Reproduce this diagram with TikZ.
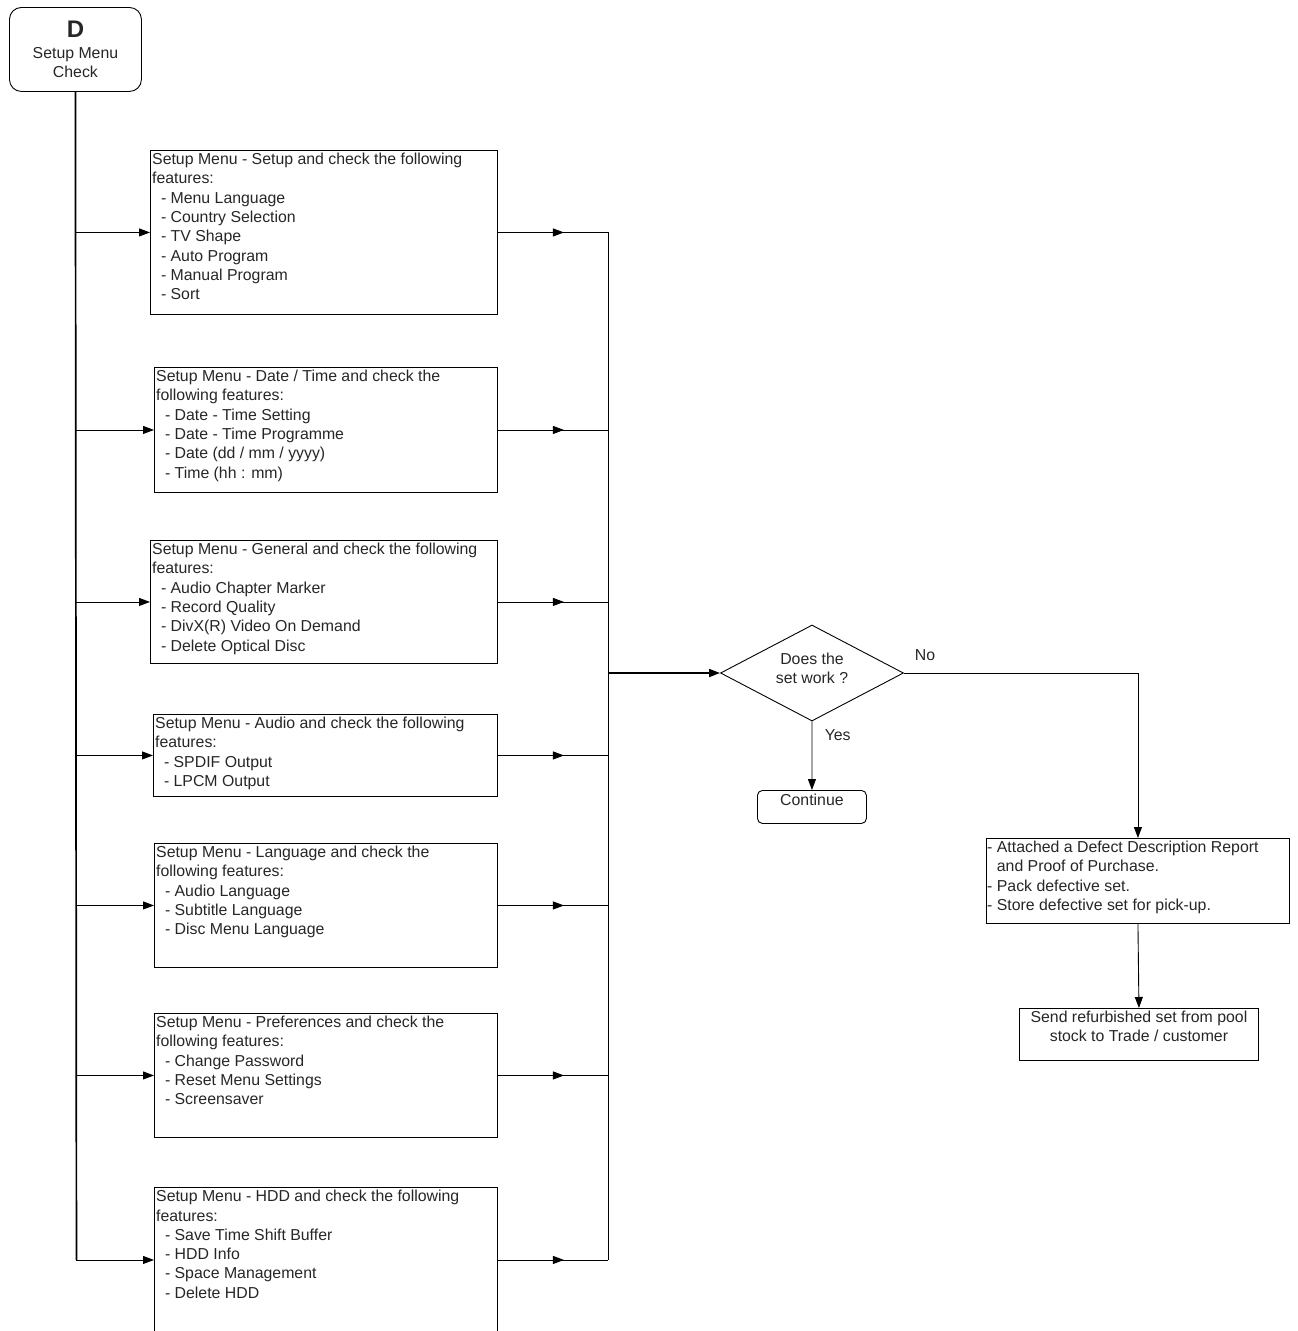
\documentclass[tikz,border=0pt]{standalone}
\usepackage{fontspec}
\setmainfont{Liberation Sans}
\usetikzlibrary{shapes.geometric,arrows.meta,decorations.markings}

\newcommand{\subind}{\hspace*{8.8pt}}

\begin{document}
\begin{tikzpicture}[x=1pt, y=-1pt, font=\fontsize{15.85}{19.3}\selectfont,
  every node/.style={text=black!85},
  box/.style={draw=black, line width=0.9pt, anchor=north west, inner sep=0pt},
  boxtext/.style={anchor=north west, inner sep=0pt, align=left},
  link/.style={line width=0.9pt},
  trunk/.style={line width=1.7pt},
  tip/.style={-{Triangle[length=11pt,width=8pt]}},
  midtip/.style={postaction={decorate}, decoration={markings, mark=at position 0.6 with {\arrow{Triangle[length=11pt,width=8pt]}}}}]
  \useasboundingbox (0,0) rectangle (1298,1331);

  % start
  \node[box, rounded corners=12pt, minimum width=132pt, minimum height=84pt, align=center] (dbox) at (9,7)
    {{\fontsize{24}{24}\selectfont\bfseries D}\\[1pt]Setup Menu\\Check};
  \coordinate (rail) at (608,0);

  % menu checks
  \node[box, minimum width=347pt, minimum height=164pt] (s1) at (150,150) {};
  \node[boxtext] (t1) at ([xshift=2pt,yshift=-3pt]s1.north west)
    {Setup Menu - Setup and check the following\\features:\\\subind- Menu Language\\\subind- Country Selection\\\subind- TV Shape\\\subind- Auto Program\\\subind- Manual Program\\\subind- Sort};

  \node[box, minimum width=343pt, minimum height=125pt] (s2) at (154,367) {};
  \node[boxtext] (t2) at ([xshift=2pt,yshift=-3pt]s2.north west)
    {Setup Menu - Date / Time and check the\\following features:\\\subind- Date - Time Setting\\\subind- Date - Time Programme\\\subind- Date (dd / mm / yyyy)\\\subind- Time (hh : mm)};

  \node[box, minimum width=347pt, minimum height=123pt] (s3) at (150,540) {};
  \node[boxtext] (t3) at ([xshift=2pt,yshift=-3pt]s3.north west)
    {Setup Menu - General and check the following\\features:\\\subind- Audio Chapter Marker\\\subind- Record Quality\\\subind- DivX(R) Video On Demand\\\subind- Delete Optical Disc};

  \node[box, minimum width=344pt, minimum height=82pt] (s4) at (153,714) {};
  \node[boxtext] (t4) at ([xshift=2pt,yshift=-3pt]s4.north west)
    {Setup Menu - Audio and check the following\\features:\\\subind- SPDIF Output\\\subind- LPCM Output};

  \node[box, minimum width=343pt, minimum height=124pt] (s5) at (154,843) {};
  \node[boxtext] (t5) at ([xshift=2pt,yshift=-3pt]s5.north west)
    {Setup Menu - Language and check the\\following features:\\\subind- Audio Language\\\subind- Subtitle Language\\\subind- Disc Menu Language};

  \node[box, minimum width=343pt, minimum height=124pt] (s6) at (154,1013) {};
  \node[boxtext] (t6) at ([xshift=2pt,yshift=-3pt]s6.north west)
    {Setup Menu - Preferences and check the\\following features:\\\subind- Change Password\\\subind- Reset Menu Settings\\\subind- Screensaver};

  \node[box, minimum width=343pt, minimum height=145pt] (s7) at (154,1187) {};
  \node[boxtext] (t7) at ([xshift=2pt,yshift=-3pt]s7.north west)
    {Setup Menu - HDD and check the following\\features:\\\subind- Save Time Shift Buffer\\\subind- HDD Info\\\subind- Space Management\\\subind- Delete HDD};

  % decision
  \node[draw=black, line width=0.9pt, diamond, inner sep=0pt, minimum width=183pt, minimum height=96pt] (check) at (812,673) {};
  \node[align=center, inner sep=0pt] (qtext) at ([yshift=5pt]check.center) {Does the\\set work ?};
  \node[box, rounded corners=5pt, minimum width=109pt, minimum height=33pt] (cont) at (757,790) {};
  \node[anchor=north, inner sep=0pt] (ctext) at ([yshift=-4pt]cont.north) {Continue};

  \node[box, minimum width=303pt, minimum height=85pt] (defect) at (986,838) {};
  \node[boxtext] (dtext) at ([xshift=1pt,yshift=-3pt]defect.north west)
    {- Attached a Defect Description Report\\\phantom{- }and Proof of Purchase.\\- Pack defective set.\\- Store defective set for pick-up.};
  \node[box, minimum width=239pt, minimum height=52pt] (send) at (1019,1008) {};
  \node[anchor=north, inner sep=0pt, align=center] (stext) at ([yshift=-3pt]send.north)
    {Send refurbished set from pool\\stock to Trade / customer};

  % connectors
  \draw[trunk] (dbox.south) -- ([xshift=1pt]s7.west -| dbox.south);
  \foreach \s in {s1,s2,s3,s4,s5,s6,s7}{
    \draw[link,tip] ([xshift=1pt]\s.west -| dbox.south) -- (\s.west);
    \draw[link,midtip] (\s.east) -- (\s.east -| rail);
  }
  \draw[link] (s1.east -| rail) -- (s7.east -| rail);
  \draw[trunk,tip] (check.west -| rail) -- (check.west);
  \draw[link,tip] (check.south) -- (cont.north) node[pos=0.2, right=9pt] (yes) {Yes};
  \draw[link,tip] (check.east) -| (defect.north) node[pos=0.045, above=9pt] (no) {No};
  \draw[link,tip] (defect.south) -- (send.north);
\end{tikzpicture}
\end{document}
